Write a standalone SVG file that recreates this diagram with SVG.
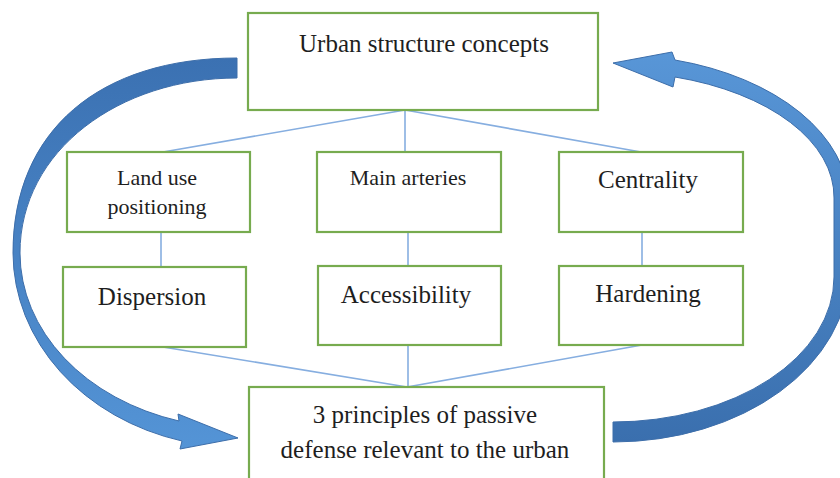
<svg xmlns="http://www.w3.org/2000/svg" width="840" height="478" viewBox="0 0 840 478">
<style>
.box{fill:#ffffff;stroke:#77ab4f;stroke-width:2.2}
.t{font-family:"Liberation Serif","Times New Roman",serif;fill:#1e1e1e;text-anchor:middle}
.big{font-size:25px}
.small{font-size:22px}
.ln{stroke:#86aee0;stroke-width:1.6;fill:none}
.arr{stroke:#3d6eaa;stroke-width:1}
</style>
<defs>
<linearGradient id="gl" x1="0" y1="0" x2="0" y2="1">
<stop offset="0" stop-color="#3b71b2"/>
<stop offset="1" stop-color="#5494d6"/>
</linearGradient>
<linearGradient id="gr" x1="0" y1="0" x2="0" y2="1">
<stop offset="0" stop-color="#5896d7"/>
<stop offset="1" stop-color="#3a6fae"/>
</linearGradient>
</defs>
<rect width="840" height="478" fill="#ffffff"/>
<g id="connectors">
<line class="ln" x1="405" y1="110" x2="163" y2="152"/>
<line class="ln" x1="405" y1="110" x2="405" y2="152"/>
<line class="ln" x1="405" y1="110" x2="641" y2="152"/>
<line class="ln" x1="161" y1="232" x2="161" y2="267"/>
<line class="ln" x1="408" y1="232" x2="408" y2="266"/>
<line class="ln" x1="642" y1="232" x2="642" y2="266"/>
<line class="ln" x1="163" y1="347" x2="407" y2="387"/>
<line class="ln" x1="408" y1="345" x2="408" y2="387"/>
<line class="ln" x1="642" y1="345" x2="407" y2="387"/>
</g>
<g id="arrow-left">
<path class="arr" fill="url(#gl)" d="M237,58 C100,58 13,130 13,253 A227,195 0 0 0 182,441 L180,449 L238,438 L178,414 L179,421 A220,175 0 0 1 20,253 C20,150 120,78 237,78 Z"/>
</g>
<g id="arrow-right">
<path class="arr" fill="url(#gr)" d="M613,442 A236,172 0 0 0 849,270 L849,202 A236,148 0 0 0 675,60 L672,52 L613,63 L673,87 L675,77 A221,125 0 0 1 834,198 L834,277 A221,145 0 0 1 613,422 Z"/>
</g>
<g id="node-urban">
<rect class="box" x="248" y="13" width="350" height="97"/>
<text class="t big" x="424" y="52">Urban structure concepts</text>
</g>
<g id="node-landuse">
<rect class="box" x="67" y="152" width="183" height="80"/>
<text class="t small" x="157" y="185">Land use</text>
<text class="t small" x="157" y="214">positioning</text>
</g>
<g id="node-arteries">
<rect class="box" x="317" y="152" width="184" height="80"/>
<text class="t small" x="408" y="185">Main arteries</text>
</g>
<g id="node-centrality">
<rect class="box" x="559" y="152" width="184" height="80"/>
<text class="t big" x="648" y="188">Centrality</text>
</g>
<g id="node-dispersion">
<rect class="box" x="63" y="267" width="183" height="80"/>
<text class="t big" x="152" y="305">Dispersion</text>
</g>
<g id="node-accessibility">
<rect class="box" x="318" y="266" width="183" height="79"/>
<text class="t big" x="406" y="303">Accessibility</text>
</g>
<g id="node-hardening">
<rect class="box" x="559" y="266" width="184" height="79"/>
<text class="t big" x="648" y="302">Hardening</text>
</g>
<g id="node-principles">
<rect class="box" x="249" y="387" width="355" height="110"/>
<text class="t big" x="425" y="423">3 principles of passive</text>
<text class="t big" x="425" y="458">defense relevant to the urban</text>
</g>
</svg>
